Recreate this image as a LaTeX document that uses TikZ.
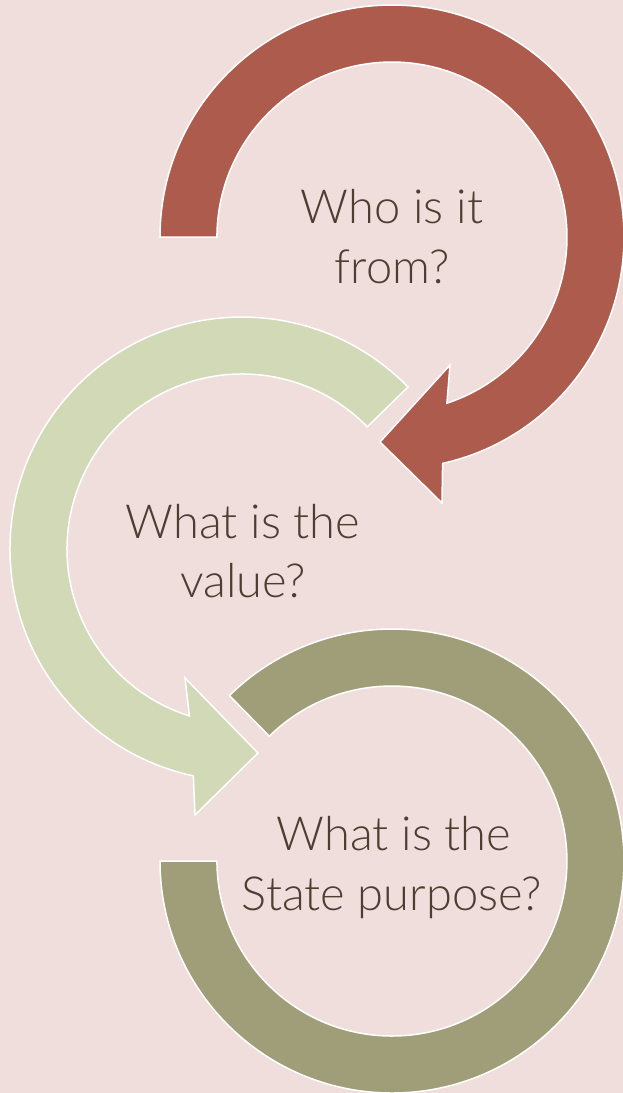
\documentclass[tikz,border=0pt]{standalone}
\usepackage{fontspec}
\setmainfont{Lato}[UprightFont=* Light]
\definecolor{bgc}{HTML}{F0DEDD}
\definecolor{redc}{HTML}{AD5B4C}
\definecolor{greenc}{HTML}{D2D9B7}
\definecolor{olivec}{HTML}{A09E78}
\definecolor{txtc}{HTML}{4F3C32}
\begin{document}
\begin{tikzpicture}[x=1pt,y=1pt,
  arrowshape/.style={draw=white, line width=1.5pt, line join=miter},
  lbl/.style={anchor=base, inner sep=0pt, text=txtc, font=\fontsize{47}{56}\selectfont}]
\fill[bgc] (0,0) rectangle (623,-1093);
\useasboundingbox (0,0) rectangle (623,-1093);
% red circular arrow
\filldraw[arrowshape, fill=redc] (160,-237) arc[start angle=180, end angle=-77.4, radius=232]
  -- (442,-503) -- (380,-442) -- (450,-365) -- (446.9,-403.2)
  arc[start angle=-71.7, end angle=180, radius=175] -- cycle;
% green circular arrow
\filldraw[arrowshape, fill=greenc] (408,-387) arc[start angle=44.3, end angle=257.9, radius=232]
  -- (195,-815) -- (258,-753) -- (185,-678) -- (189.4,-715.9)
  arc[start angle=252.5, end angle=44.3, radius=175] -- cycle;
% olive arc
\filldraw[arrowshape, fill=olivec] (160,-861) arc[start angle=180, end angle=494.5, radius=232]
  -- (269.3,-736.2) arc[start angle=134.5, end angle=-180, radius=175] -- cycle;
% labels
\node[lbl] (t1a) at (392,-223) {Who is it};
\node[lbl] (t1b) at (392,-283) {from?};
\node[lbl] (t2a) at (243,-538) {What is the};
\node[lbl] (t2b) at (243,-597) {value?};
\node[lbl] (t3a) at (394,-850) {What is the};
\node[lbl] (t3b) at (392,-910) {State purpose?};
\end{tikzpicture}
\end{document}
